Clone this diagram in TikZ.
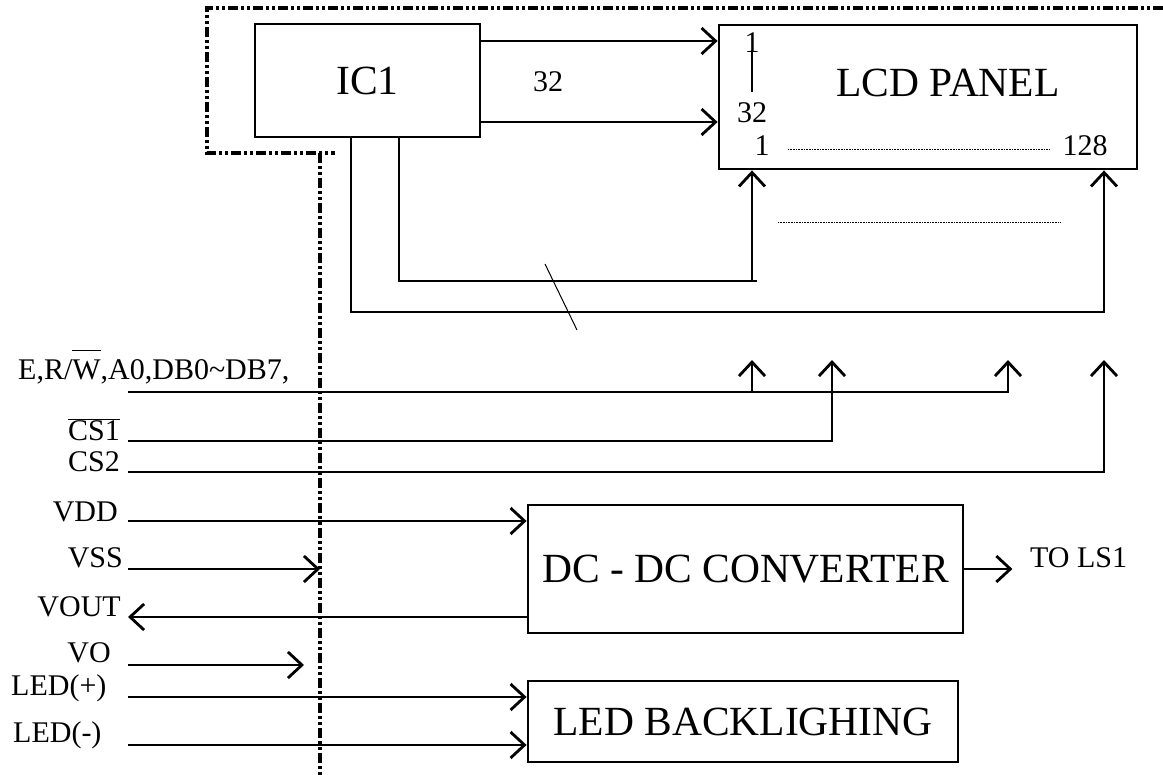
\documentclass[tikz,border=0pt]{standalone}
\usepackage{fontspec}
\setmainfont{Liberation Serif}
\usetikzlibrary{arrows.meta}

\begin{document}
\begin{tikzpicture}[
  x=1pt,y=-1pt,
  blk/.style={draw,line width=2.8pt,inner sep=0pt,
              font=\fontsize{41.5}{46}\selectfont},
  big/.style={inner sep=0pt,font=\fontsize{41.5}{46}\selectfont},
  lbl/.style={inner sep=0pt,font=\fontsize{30}{34}\selectfont},
  arr/.style={-{Straight Barb[length=14pt,width=26pt]},line width=2.8pt},
  dashdot/.style={line width=3.2pt,
                  dash pattern=on 10pt off 3pt on 3pt off 3pt on 3pt off 3pt},
  fine/.style={line width=0.8pt,dash pattern=on 0.8pt off 0.8pt}
]
\useasboundingbox (0,0) rectangle (1163,775);

% blocks
\node[blk,minimum width=225pt,minimum height=113pt] (ic) at (367.5,80.5) {IC1};
\node[blk,minimum width=418pt,minimum height=144pt] (lcd) at (928,97) {};
\node[big] (lcdname) at (948,83) {LCD PANEL};
\node[blk,minimum width=435pt,minimum height=128pt] (dc) at (745.5,569) {DC - DC CONVERTER};
\node[blk,minimum width=430pt,minimum height=81pt] (led) at (743,721.5) {LED BACKLIGHING};

% panel numbering
\node[lbl] (row1) at (752,43) {1};
\node[lbl] (row32) at (752,113) {32};
\node[lbl] (col1) at (762,146) {1};
\node[lbl] (col128) at (1085,146) {128};
\node[lbl] (nrows) at (548,82) {32};
\draw[line width=1.6pt] (752,50) -- (752,92);
\draw[fine] (788,149) -- (1050,149);
\draw[fine] (778,222) -- (1061,222);

% interface labels
\node[lbl,anchor=west] (bus) at (18,372)
  {E,R/$\smash{\overline{\mbox{W}\rule{0pt}{28pt}}}$,A0,DB0\textasciitilde DB7,};
\node[lbl,anchor=east] (cs1) at (120,430) {$\overline{\mbox{CS1}}$};
\node[lbl,anchor=east] (cs2) at (120,462) {CS2};
\node[lbl,anchor=east] (vdd) at (118,512) {VDD};
\node[lbl,anchor=east] (vss) at (123,558) {VSS};
\node[lbl,anchor=east] (vout) at (121,607) {VOUT};
\node[lbl,anchor=east] (vo) at (111,653) {VO};
\node[lbl,anchor=west] (ledp) at (11,688) {LED(+)};
\node[lbl,anchor=west] (ledm) at (13,735) {LED(-)};
\node[lbl,anchor=west] (tols) at (1030,558) {TO LS1};

\foreach \n/\y in {e/392,cs1/441,cs2/472,vdd/521,vss/569,vout/617,vo/665,ledp/697,ledm/745}
  {\coordinate (in-\n) at (128,\y);}
\coordinate (sepTop) at (320,153);
\coordinate (sepBot) at (320,775);

% module boundary
\draw[dashdot] (1163,8) -- (207,8) -- (207,153) -- (335,153);
\draw[dashdot] (sepTop) -- (sepBot);

% IC1 to panel
\draw[arr] (ic.east |- 0,41) -- (lcd.west |- 0,41);
\draw[arr] (ic.east |- 0,122) -- (lcd.west |- 0,122);
\draw[arr] (ic.south -| 399,0) |- (757,281) (752,281) -- (lcd.south -| 752,0);
\draw[arr] (ic.south -| 351,0) |- (1104,312) -- (lcd.south -| 1104,0);
\draw[line width=1pt] (545,264) -- (577,330);

% bus and chip selects
\draw[arr] (in-e) -| (1008,360);
\draw[arr] (in-e -| 752,0) -- (752,360);
\draw[arr] (in-cs1) -| (832,360);
\draw[arr] (in-cs2) -| (1104,360);

% supplies
\draw[arr] (in-vdd) -- (dc.west |- in-vdd);
\draw[arr] (in-vss) -- (sepTop |- in-vss);
\draw[arr] (dc.west |- in-vout) -- (in-vout);
\draw[arr] (in-vo) -- ++(176,0);
\draw[arr] (in-ledp) -- (led.west |- in-ledp);
\draw[arr] (in-ledm) -- (led.west |- in-ledm);
\draw[arr] (dc.east) -- ++(48,0);

\end{tikzpicture}
\end{document}
